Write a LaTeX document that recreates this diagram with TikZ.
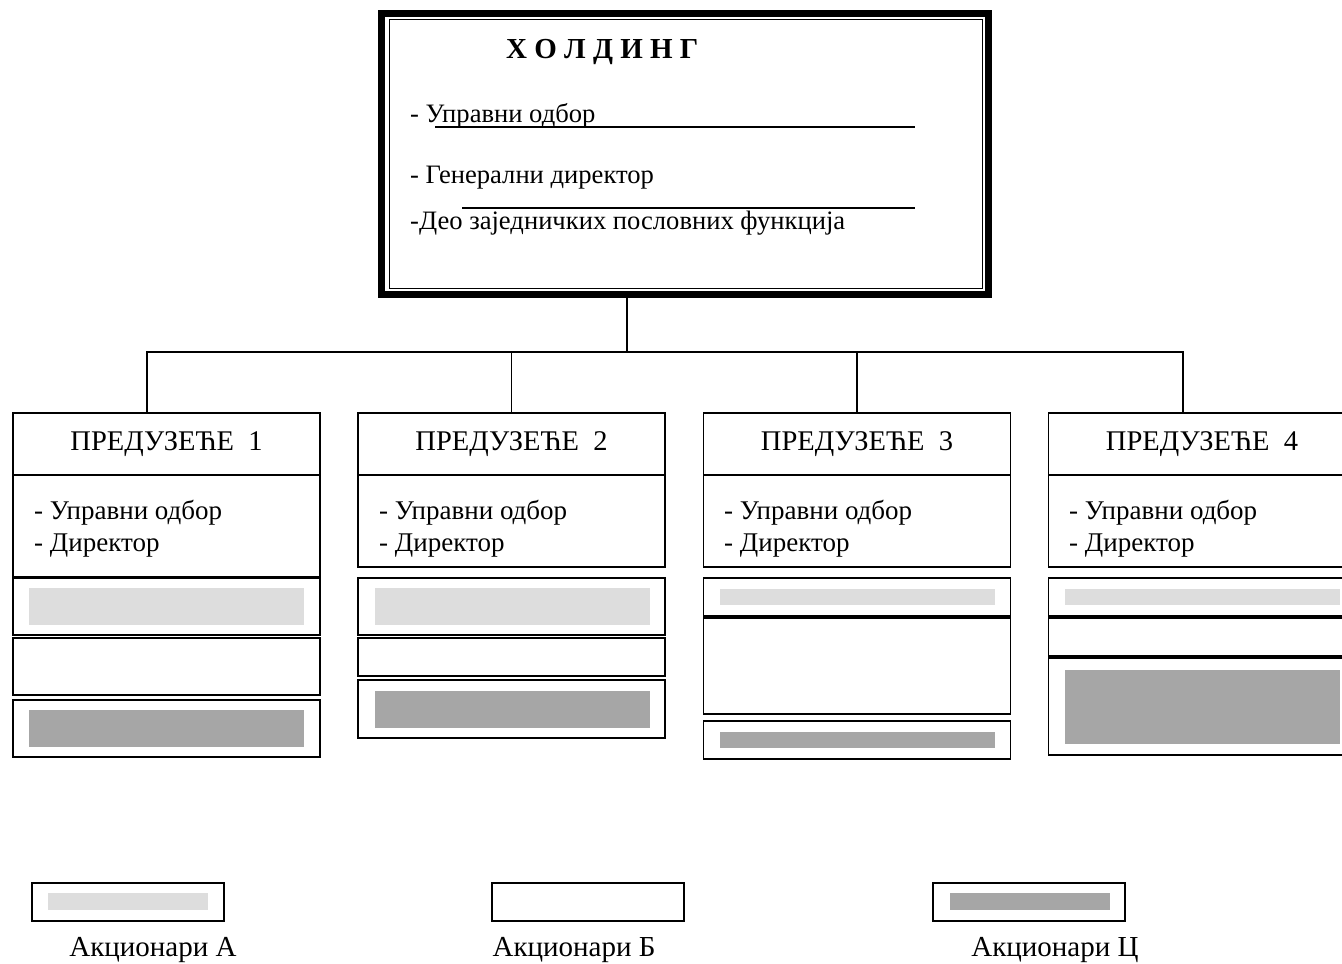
\documentclass[tikz,border=0pt]{standalone}
\usepackage{fontspec}
\setmainfont{Liberation Serif}
\definecolor{lite}{HTML}{DDDDDD}
\definecolor{dark}{HTML}{A6A6A6}
\begin{document}
\begin{tikzpicture}[x=1pt,y=-1pt,
  txt/.style={font=\fontsize{27}{32}\selectfont, inner sep=0pt, anchor=base west},
  htxt/.style={font=\fontsize{26.6}{32}\selectfont, inner sep=0pt, anchor=base west},
  ctxt/.style={font=\fontsize{29}{34}\selectfont, inner sep=0pt, anchor=base},
  frame/.style={draw, line width=1.8pt},
  hdr/.style={draw, line width=1.8pt, minimum width=307pt, minimum height=62pt, inner sep=0pt,
              font=\fontsize{28.5}{34}\selectfont},
  wire/.style={line width=1.4pt}]
\useasboundingbox (0,0) rectangle (1342,964);
\clip (0,0) rectangle (1342,964);

% holding box: heavy outer frame with a thin inner rule
\node[draw, line width=7pt, minimum width=607pt, minimum height=281pt, inner sep=0pt] (hold) at (685,154) {};
\draw[line width=1.6pt] (389.5,19.5) rectangle (982.5,288.5);
\node[txt, font=\fontsize{29}{34}\selectfont\bfseries] (htitle) at (506,58) {Х О Л Д И Н Г};
\node[htxt] (h1) at (410,122) {- Управни одбор};
\node[htxt] (h2) at (410,183) {- Генерални директор};
\node[htxt] (h3) at (410,229) {-Део заједничких пословних функција};
\coordinate (u1a) at (435,127); \coordinate (u1b) at (915,127);
\coordinate (u2a) at (462,208); \coordinate (u2b) at (915,208);
\draw[wire] (u1a) -- (u1b);
\draw[wire] (u2a) -- (u2b);

% company header boxes
\node[hdr] (p1) at (166.5,444) {ПРЕДУЗЕЋЕ\ \ 1};
\node[hdr] (p2) at (511.5,444) {ПРЕДУЗЕЋЕ\ \ 2};
\node[hdr] (p3) at (857,444) {ПРЕДУЗЕЋЕ\ \ 3};
\node[hdr] (p4) at (1202,444) {ПРЕДУЗЕЋЕ\ \ 4};

% connectors
\coordinate (bus) at (627,352);
\draw[wire] (bus |- hold.south) -- (bus);
\draw[wire] (bus) -| ([xshift=-19.5pt]p1.north);
\draw[wire] (bus) -| (p2.north);
\draw[wire] (bus) -| (p3.north);
\draw[wire] (bus) -| ([xshift=-19pt]p4.north);

% company 1
\draw[frame] (13,475) rectangle (320,577);
\node[txt] (c1a) at (34,519) {- Управни одбор};
\node[txt] (c1b) at (34,551) {- Директор};
\draw[frame] (13,578) rectangle (320,635);
\fill[lite] (29,588) rectangle (304,625);
\draw[frame] (13,638) rectangle (320,695);
\draw[frame] (13,700) rectangle (320,757);
\fill[dark] (29,710) rectangle (304,747);

% company 2
\draw[frame] (358,475) rectangle (665,567);
\node[txt] (c2a) at (379,519) {- Управни одбор};
\node[txt] (c2b) at (379,551) {- Директор};
\draw[frame] (358,578) rectangle (665,635);
\fill[lite] (375,588) rectangle (650,625);
\draw[frame] (358,638) rectangle (665,676);
\draw[frame] (358,680) rectangle (665,738);
\fill[dark] (375,691) rectangle (650,728);

% company 3
\draw[frame] (703.5,475) rectangle (1010.5,567);
\node[txt] (c3a) at (724,519) {- Управни одбор};
\node[txt] (c3b) at (724,551) {- Директор};
\draw[frame] (703.5,578) rectangle (1010.5,616);
\fill[lite] (720,589) rectangle (995,605);
\draw[frame] (703.5,618) rectangle (1010.5,714);
\draw[frame] (703.5,721) rectangle (1010.5,759);
\fill[dark] (720,732) rectangle (995,748);

% company 4
\draw[frame] (1048.5,475) rectangle (1355.5,567);
\node[txt] (c4a) at (1069,519) {- Управни одбор};
\node[txt] (c4b) at (1069,551) {- Директор};
\draw[frame] (1048.5,578) rectangle (1355.5,616);
\fill[lite] (1065,589) rectangle (1340,605);
\draw[frame] (1048.5,618) rectangle (1355.5,656);
\draw[frame] (1048.5,658) rectangle (1355.5,755);
\fill[dark] (1065,670) rectangle (1340,744);

% legend
\draw[frame] (32,883) rectangle (224,921);
\fill[lite] (48,893) rectangle (208,910);
\node[ctxt] (la) at (153,956) {Акционари А};
\draw[frame] (492,883) rectangle (684,921);
\node[ctxt] (lb) at (574,956) {Акционари Б};
\draw[frame] (933,883) rectangle (1125,921);
\fill[dark] (950,893) rectangle (1110,910);
\node[ctxt] (lc) at (1055,956) {Акционари Ц};
\end{tikzpicture}
\end{document}
